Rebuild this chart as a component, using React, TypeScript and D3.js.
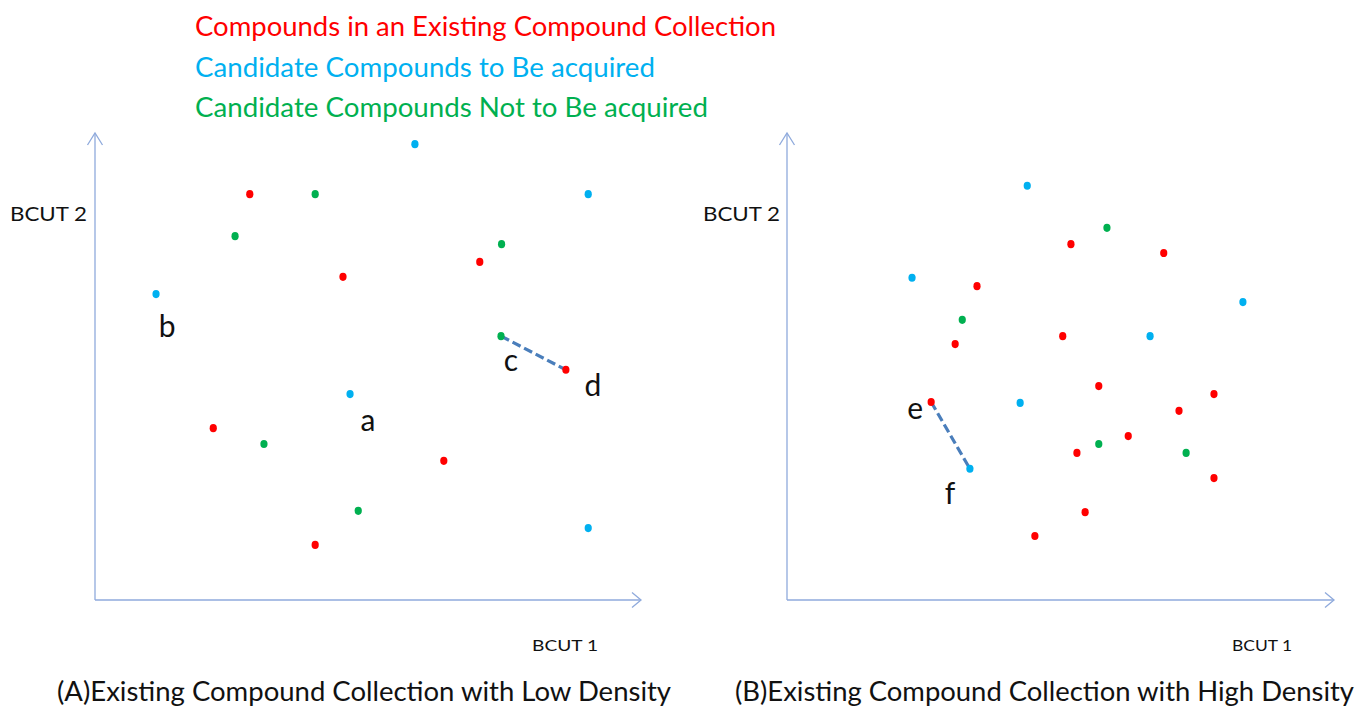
import React from "react";
import * as d3 from "d3";

// ---- Legend / categories ----
const categories = ["existing", "toAcquire", "notToAcquire"];
const legendLabels = [
  "Compounds in an Existing Compound Collection",
  "Candidate Compounds to Be acquired",
  "Candidate Compounds Not to Be acquired",
];
const categoryColors = ["#FF0000", "#00B0F0", "#00B050"];

// ---- Panel A (low density) data, in BCUT units 0..100 ----
const lowExisting: [number, number][] = [
  [28.4, 86.9], [45.5, 69.2], [70.6, 72.4], [86.4, 49.3], [21.7, 36.8], [64.0, 29.8], [40.4, 11.8],
];
const lowToAcquire: [number, number][] = [
  [58.7, 97.6], [90.5, 86.9], [11.2, 65.5], [46.8, 44.1], [90.5, 15.4],
];
const lowNotToAcquire: [number, number][] = [
  [40.4, 86.9], [25.7, 77.9], [74.6, 76.2], [74.5, 56.5], [31.0, 33.4], [48.3, 19.1],
];

// ---- Panel B (high density) data ----
const highExisting: [number, number][] = [
  [52.0, 76.2], [69.0, 74.3], [34.8, 67.2], [50.5, 56.5], [30.8, 54.8], [57.1, 45.8], [26.4, 42.4],
  [78.2, 44.1], [71.8, 40.5], [62.5, 35.1], [53.1, 31.5], [78.2, 26.1], [54.6, 18.8], [45.4, 13.7],
];
const highToAcquire: [number, number][] = [
  [44.0, 88.7], [22.9, 69.0], [83.5, 63.8], [66.5, 56.5], [42.7, 42.2], [33.5, 28.1],
];
const highNotToAcquire: [number, number][] = [
  [58.6, 79.7], [32.1, 60.0], [57.1, 33.4], [73.1, 31.5],
];

// ---- Annotations: [label, category index, point index, dx, dy] ----
const lowLabels: [string, number, number, number, number][] = [
  ["b", 1, 2, 11, 34],
  ["a", 1, 3, 18, 28],
  ["c", 2, 3, 10, 26],
  ["d", 0, 3, 27, 17],
];
const highLabels: [string, number, number, number, number][] = [
  ["e", 0, 6, -16, 8],
  ["f", 1, 5, -20, 26],
];
// dashed links: [catA, idxA, catB, idxB]
const lowLinks: [number, number, number, number][] = [[2, 3, 0, 3]];
const highLinks: [number, number, number, number][] = [[0, 6, 1, 5]];

const panelTitles = [
  "(A)Existing Compound Collection with Low Density",
  "(B)Existing Compound Collection with High Density",
];
const axisLabelX = "BCUT 1";
const axisLabelY = "BCUT 2";

const FONT = "Lato, 'Open Sans', sans-serif";
const AXIS_COLOR = "#8FAADC";
const LINK_COLOR = "#4A7EBB";

type PanelProps = {
  x0: number;
  x1: number;
  series: [number, number][][];
  labels: [string, number, number, number, number][];
  links: [number, number, number, number][];
  title: string;
  titleX: number;
  titleW: number;
  yLabelX: number;
  xLabelX: number;
  xLabelW: number;
};

function Panel(p: PanelProps) {
  const yTop = 133;
  const yBot = 600;
  const x = d3.scaleLinear().domain([0, 100]).range([p.x0, p.x1]);
  const y = d3.scaleLinear().domain([0, 100]).range([yBot, yTop]);
  const pt = (c: number, i: number) => p.series[c][i];
  return (
    <g>
      {/* axes */}
      <line x1={x(0)} y1={y(0)} x2={x(0)} y2={y(100)} stroke={AXIS_COLOR} strokeWidth={1.3} />
      <line x1={x(0)} y1={y(0)} x2={x(100) + 1} y2={y(0)} stroke={AXIS_COLOR} strokeWidth={1.3} />
      <polyline
        points={`${x(0) - 7.5},${y(100) + 12} ${x(0)},${y(100)} ${x(0) + 7.5},${y(100) + 12}`}
        fill="none" stroke={AXIS_COLOR} strokeWidth={1.3}
      />
      <polyline
        points={`${x(100) - 8},${y(0) - 7.5} ${x(100) + 1},${y(0)} ${x(100) - 8},${y(0) + 7.5}`}
        fill="none" stroke={AXIS_COLOR} strokeWidth={1.3}
      />
      <text x={p.yLabelX} y={221} fontFamily={FONT} fontSize={19} fill="#111" textLength={77} lengthAdjust="spacingAndGlyphs">
        {axisLabelY}
      </text>
      <text x={p.xLabelX} y={651} fontFamily={FONT} fontSize={16} fill="#111" textLength={p.xLabelW} lengthAdjust="spacingAndGlyphs">
        {axisLabelX}
      </text>
      {/* links */}
      {p.links.map((l, k) => {
        const a = pt(l[0], l[1]);
        const b = pt(l[2], l[3]);
        return (
          <line key={k} x1={x(a[0])} y1={y(a[1])} x2={x(b[0])} y2={y(b[1])}
            stroke={LINK_COLOR} strokeWidth={3.2} strokeDasharray="9,4" />
        );
      })}
      {/* points */}
      {p.series.map((s, c) =>
        s.map((d, i) => (
          <ellipse key={`${c}-${i}`} cx={x(d[0])} cy={y(d[1])} rx={3.6} ry={4.1} fill={categoryColors[c]} />
        ))
      )}
      {/* point labels */}
      {p.labels.map((l, k) => {
        const d = pt(l[1], l[2]);
        return (
          <text key={k} x={x(d[0]) + l[3]} y={y(d[1]) + l[4] + 9} textAnchor="middle"
            fontFamily={FONT} fontSize={30} fill="#111">
            {l[0]}
          </text>
        );
      })}
      <text x={p.titleX} y={701} fontFamily={FONT} fontSize={26} fill="#111" textLength={p.titleW} lengthAdjust="spacingAndGlyphs">
        {p.title}
      </text>
    </g>
  );
}

export default function App() {
  const legendWidths = [581, 460, 513];
  const legendBaselines = [36, 77, 117];
  return (
    <svg width={1358} height={708} style={{ position: "absolute", left: 0, top: 0, background: "#fff" }}>
      <rect width={1358} height={708} fill="#fff" />
      {categories.map((c, i) => (
        <text key={c} x={195} y={legendBaselines[i]} fontFamily={FONT} fontSize={27}
          fill={categoryColors[i]} textLength={legendWidths[i]} lengthAdjust="spacingAndGlyphs">
          {legendLabels[i]}
        </text>
      ))}
      <Panel
        x0={95} x1={640}
        series={[lowExisting, lowToAcquire, lowNotToAcquire]}
        labels={lowLabels} links={lowLinks}
        title={panelTitles[0]} titleX={57} titleW={614}
        yLabelX={10} xLabelX={532} xLabelW={66}
      />
      <Panel
        x0={787} x1={1333}
        series={[highExisting, highToAcquire, highNotToAcquire]}
        labels={highLabels} links={highLinks}
        title={panelTitles[1]} titleX={735} titleW={619}
        yLabelX={703} xLabelX={1232} xLabelW={60}
      />
    </svg>
  );
}
